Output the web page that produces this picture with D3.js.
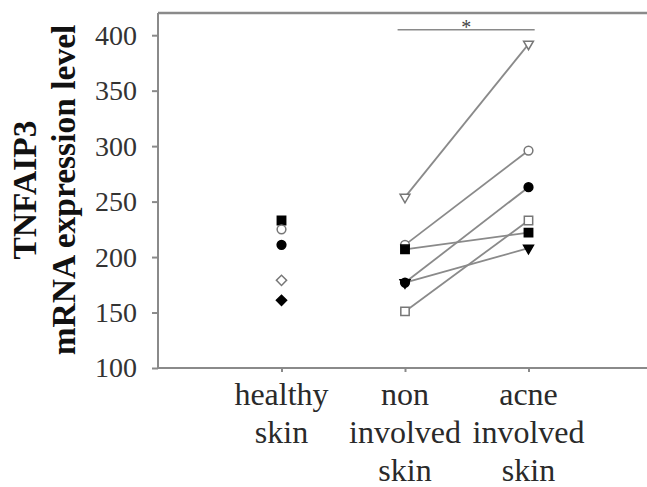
<!DOCTYPE html>
<html>
<head>
<meta charset="utf-8">
<script src="https://cdn.jsdelivr.net/npm/d3@7"></script>
<style>
    body { margin: 0; background: #fff; }
    svg { display: block; }
    .axis path, .axis line { stroke: #8a8a8a; stroke-width: 2; }
</style>
</head>
<body>
<svg id="chart"></svg>
<script>
// groups on the x axis
const groups = ["healthy skin", "non involved skin", "acne involved skin"];
const groupLines = [["healthy", "skin"], ["non", "involved", "skin"], ["acne", "involved", "skin"]];
const yTicks = [100, 150, 200, 250, 300, 350, 400];

// healthy skin, unpaired samples
const healthyShapes = ["square", "circle", "circle", "diamond", "diamond"];
const healthyFilled = [true, false, true, false, true];
const healthyValues = [233, 225, 211, 179, 161];

// paired samples: non involved -> acne involved
const pairShapes = ["triangle", "circle", "square", "triangle", "circle", "square"];
const pairFilled = [false, false, true, true, true, false];
const nonInvolved = [254, 211, 207, 177, 177, 151];
const acneInvolved = [392, 296, 222, 208, 263, 233];

const width = 647, height = 487;
const serif = "'Liberation Serif', 'Times New Roman', serif";
const svg = d3.select("#chart").attr("width", width).attr("height", height);

const x = d3.scaleLinear().domain([0, 4]).range([158, 652]);
const y = d3.scaleLinear().domain([100, 420]).range([368, 13]);

const grey = "#8a8a8a";

// top frame line
svg.append("line")
    .attr("x1", x(0)).attr("x2", width)
    .attr("y1", y(420)).attr("y2", y(420))
    .attr("stroke", grey).attr("stroke-width", 2.5);

// y axis
const yAxis = svg.append("g")
    .attr("class", "axis")
    .attr("transform", `translate(${x(0)},0)`)
    .call(d3.axisLeft(y).tickValues(yTicks).tickSize(6).tickSizeOuter(0).tickPadding(15));
yAxis.selectAll("text")
    .style("font-family", serif)
    .style("font-size", "28px")
    .style("fill", "#333");
yAxis.select(".domain").attr("d", `M0,${y(420)}V${y(100)}`);

// x axis
const xAxis = svg.append("g")
    .attr("class", "axis")
    .attr("transform", `translate(0,${y(100)})`)
    .call(d3.axisBottom(x).tickValues([1, 2, 3]).tickSize(4).tickSizeOuter(0).tickFormat(""));
xAxis.select(".domain").attr("d", `M${x(0)},0H${width}`);

// multi-line category labels
groupLines.forEach((lines, i) => {
    const t = svg.append("text")
        .attr("text-anchor", "middle")
        .style("font-family", serif)
        .style("font-size", "32px")
        .attr("fill", "#2a2a2a");
    lines.forEach((s, j) => {
        t.append("tspan").attr("x", x(i + 1)).attr("y", 405 + j * 38).text(s);
    });
});

// y title
const yTitle = ["TNFAIP3", "mRNA expression level"];
yTitle.forEach((s, i) => {
    svg.append("text")
        .attr("transform", `translate(${36 + i * 39},190) rotate(-90)`)
        .attr("text-anchor", "middle")
        .style("font-family", serif)
        .style("font-weight", "bold")
        .style("font-size", "33.5px")
        .attr("fill", "#111")
        .text(s);
});

// significance bar
svg.append("line")
    .attr("x1", x(1.94)).attr("x2", x(3.05))
    .attr("y1", y(405)).attr("y2", y(405))
    .attr("stroke", grey).attr("stroke-width", 1.5);
svg.append("text")
    .attr("x", (x(1.94) + x(3.05)) / 2).attr("y", y(405) + 4)
    .attr("text-anchor", "middle")
    .style("font-family", serif)
    .style("font-size", "20px")
    .attr("fill", "#444")
    .text("*");

// connecting lines for paired samples
nonInvolved.forEach((v, i) => {
    svg.append("line")
        .attr("x1", x(2)).attr("y1", y(v))
        .attr("x2", x(3)).attr("y2", y(acneInvolved[i]))
        .attr("stroke", grey).attr("stroke-width", 1.8);
});

const symbolTypes = {
    square: d3.symbolSquare,
    circle: d3.symbolCircle,
    diamond: d3.symbolSquare,
    triangle: d3.symbolTriangle
};
const symbolSizes = { square: 70, circle: 60, diamond: 52, triangle: 42 };
const symbolRot = { square: "", circle: "", diamond: " rotate(45)", triangle: " rotate(180)" };

function marker(cx, cy, shape, filled) {
    const path = d3.symbol().type(symbolTypes[shape]).size(symbolSizes[shape])();
    svg.append("path")
        .attr("d", path)
        .attr("transform", `translate(${cx},${cy})${symbolRot[shape]}`)
        .attr("fill", filled ? "#000" : "#fff")
        .attr("stroke", filled ? "#000" : "#777")
        .attr("stroke-width", 1.5);
}

healthyValues.forEach((v, i) => marker(x(1), y(v), healthyShapes[i], healthyFilled[i]));
nonInvolved.forEach((v, i) => marker(x(2), y(v), pairShapes[i], pairFilled[i]));
acneInvolved.forEach((v, i) => marker(x(3), y(v), pairShapes[i], pairFilled[i]));
</script>
</body>
</html>
